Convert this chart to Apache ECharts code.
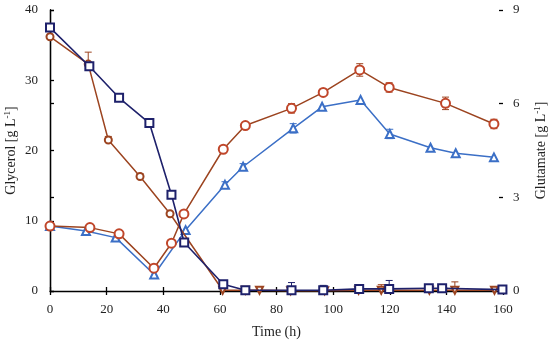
<!DOCTYPE html>
<html>
<head>
<meta charset="utf-8">
<script src="https://cdn.jsdelivr.net/npm/echarts@6/dist/echarts.min.js"></script>
<style>html,body{margin:0;padding:0;background:#fff}#c{width:550px;height:343px}</style>
</head>
<body>
<div id="c"></div>
<script>
// Glycerol, condition A (navy squares, left axis)
var glyAT = [0, 13.9, 24.4, 35.1, 42.9, 47.4, 61.2, 69, 85.3, 96.5, 109.2, 119.8, 133.8, 138.5, 159.8];
var glyAV = [37.5, 32.0, 27.5, 23.9, 13.7, 6.9, 0.95, 0.1, 0.1, 0.1, 0.3, 0.3, 0.4, 0.4, 0.2];
var glyAE = [0, 0.5, 0, 0, 0, 0, 0, 0.3, 1.1, 0.7, 0, 1.2, 0, 0, 0];
// Glycerol, condition B (brown markers, left axis)
var glyBT = [0, 13.5, 20.6, 31.8, 42.4, 61, 69, 74, 85, 97, 109, 117, 134, 143, 157];
var glyBV = [36.2, 32.3, 21.5, 16.3, 11.0, 0.1, 0.1, 0.1, 0.05, 0.05, 0.1, 0.1, 0.1, 0.1, 0.1];
var glyBE = [0, 1.7, 0.5, 0.4, 0, 0, 0.3, 0, 0, 0, 0, 0.8, 0, 1.2, 0];
// Glutamate, condition B (red circles, right axis)
var gluBT = [0, 14.1, 24.4, 36.7, 42.9, 47.3, 61.2, 69, 85.3, 96.5, 109.4, 119.8, 139.7, 156.8];
var gluBV = [2.08, 2.03, 1.83, 0.73, 1.53, 2.47, 4.54, 5.30, 5.85, 6.36, 7.08, 6.52, 6.01, 5.35];
var gluBE = [0.1, 0, 0, 0, 0, 0, 0, 0, 0.15, 0, 0.2, 0.15, 0.2, 0.15];
// Glutamate, condition A (blue triangles, right axis)
var gluAT = [0, 12.7, 23.2, 36.8, 47.9, 61.8, 68.2, 85.9, 96.1, 109.7, 120, 134.4, 143.3, 156.8];
var gluAV = [2.08, 1.92, 1.71, 0.53, 1.95, 3.40, 3.98, 5.21, 5.90, 6.12, 5.03, 4.59, 4.41, 4.28];
var gluAE = [0, 0, 0, 0, 0, 0.1, 0.1, 0.15, 0, 0, 0.15, 0, 0, 0];
// Axis ticks
var xTicks = [0, 20, 40, 60, 80, 100, 120, 140, 160];
var yLeftTicks = [0, 10, 20, 30, 40];
var yRightTicks = [0, 3, 6, 9];

var NAVY = '#1e216b', BROWN = '#9c4420', RED = '#c0462a', BLUE = '#3b6fc6';
var FONT = 'Liberation Serif';

function pairs(t, v) { return t.map(function (x, i) { return [x, v[i]]; }); }

function errSeries(t, v, e, yIdx, color, upOnly) {
  var data = [];
  t.forEach(function (x, i) { if (e[i] > 0) data.push([x, v[i], e[i]]); });
  return {
    type: 'custom', yAxisIndex: yIdx, z: 1, silent: true,
    data: data,
    renderItem: function (params, api) {
      var x = api.value(0), y = api.value(1), er = api.value(2);
      var top = api.coord([x, y + er]);
      var bot = upOnly ? api.coord([x, y]) : api.coord([x, y - er]);
      var st = { stroke: color, lineWidth: 1 };
      var ch = [
        { type: 'line', shape: { x1: top[0], y1: top[1], x2: bot[0], y2: bot[1] }, style: st },
        { type: 'line', shape: { x1: top[0] - 3.5, y1: top[1], x2: top[0] + 3.5, y2: top[1] }, style: st }
      ];
      if (!upOnly) ch.push({ type: 'line', shape: { x1: bot[0] - 3.5, y1: bot[1], x2: bot[0] + 3.5, y2: bot[1] }, style: st });
      return { type: 'group', children: ch };
    }
  };
}

var chart = echarts.init(document.getElementById('c'), null, { renderer: 'canvas' });

var axisLbl = { fontFamily: FONT, fontSize: 13, color: '#222' };
var nameStyle = {
  fontFamily: FONT, fontSize: 14, color: '#222',
  rich: { sup: { fontFamily: FONT, fontSize: 9, color: '#222', padding: [0, 0, 7, 0] } }
};

var brownData = glyBT.map(function (x, i) {
  var late = x > 50;
  return { value: [x, glyBV[i]], symbol: late ? 'emptyTriangle' : 'emptyCircle', symbolRotate: late ? 180 : 0, symbolSize: 7 };
});

chart.setOption({
  animation: false,
  backgroundColor: '#fff',
  grid: { left: 50, right: 47, top: 10, bottom: 52, containLabel: false, outerBoundsMode: 'none' },
  xAxis: [{
    type: 'value', min: 0, max: 160, interval: 20,
    name: 'Time (h)', nameLocation: 'middle', nameGap: 34, nameMoveOverlap: false, nameTextStyle: nameStyle,
    axisLine: { show: true, onZero: false, lineStyle: { color: '#000', width: 1.3 } },
    axisTick: { show: true, inside: false, length: 4, lineStyle: { color: '#000', width: 1.3 } },
    axisLabel: Object.assign({ margin: 12 }, axisLbl), splitLine: { show: false }
  }, {
    type: 'value', min: 0, max: 160, interval: 20, position: 'bottom',
    axisLine: { show: false, onZero: false },
    axisTick: { show: true, inside: true, length: 4, lineStyle: { color: '#000', width: 1.3 } },
    axisLabel: { show: false }, splitLine: { show: false }
  }],
  yAxis: [{
    type: 'value', min: 0, max: 40, interval: 10, position: 'left',
    name: 'Glycerol [g L{sup|-1}]', nameLocation: 'middle', nameGap: 31, nameMoveOverlap: false, nameRotate: 90, nameTextStyle: nameStyle,
    axisLine: { show: true, lineStyle: { color: '#000', width: 1.3 } },
    axisTick: { show: true, inside: true, length: 4, lineStyle: { color: '#000', width: 1.3 } },
    axisLabel: Object.assign({ margin: 12 }, axisLbl), splitLine: { show: false }
  }, {
    type: 'value', min: 0, max: 9, interval: 3, position: 'right',
    name: 'Glutamate [g L{sup|-1}]', nameLocation: 'middle', nameGap: 30, nameMoveOverlap: false, nameRotate: 90, nameTextStyle: nameStyle,
    axisLine: { show: true, lineStyle: { color: '#000', width: 1.3 } },
    axisTick: { show: true, inside: false, length: 4, lineStyle: { color: '#000', width: 1.3 } },
    axisLabel: Object.assign({ margin: 10 }, axisLbl), splitLine: { show: false }
  }, {
    type: 'value', min: 0, max: 9, interval: 3, position: 'right',
    axisLine: { show: false },
    axisTick: { show: true, inside: true, length: 4, lineStyle: { color: '#000', width: 1.3 } },
    axisLabel: { show: false }, splitLine: { show: false }
  }],
  series: [
    errSeries(gluAT, gluAV, gluAE, 1, BLUE, false),
    errSeries(gluBT, gluBV, gluBE, 1, BROWN, false),
    errSeries(glyBT, glyBV, glyBE, 0, BROWN, true),
    errSeries(glyAT, glyAV, glyAE, 0, NAVY, true),
    {
      type: 'line', yAxisIndex: 1, data: pairs(gluAT, gluAV), z: 2,
      symbol: 'emptyTriangle', symbolSize: 8, showAllSymbol: true,
      lineStyle: { color: BLUE, width: 1.5 }, itemStyle: { color: BLUE, borderColor: BLUE, borderWidth: 1.1 }
    },
    {
      type: 'line', yAxisIndex: 1, data: pairs(gluBT, gluBV), z: 3,
      symbol: 'emptyCircle', symbolSize: 9, showAllSymbol: true,
      lineStyle: { color: BROWN, width: 1.5 }, itemStyle: { color: RED, borderColor: RED, borderWidth: 1.1 }
    },
    {
      type: 'line', yAxisIndex: 0, data: brownData, z: 4, showAllSymbol: true,
      lineStyle: { color: BROWN, width: 1.5 }, itemStyle: { color: BROWN, borderColor: BROWN, borderWidth: 1.1 }
    },
    {
      type: 'line', yAxisIndex: 0, data: pairs(glyAT, glyAV), z: 5,
      symbol: 'emptyRect', symbolSize: 8, showAllSymbol: true,
      lineStyle: { color: NAVY, width: 1.6 }, itemStyle: { color: NAVY, borderColor: NAVY, borderWidth: 1.1 }
    }
  ]
});
</script>
</body>
</html>
